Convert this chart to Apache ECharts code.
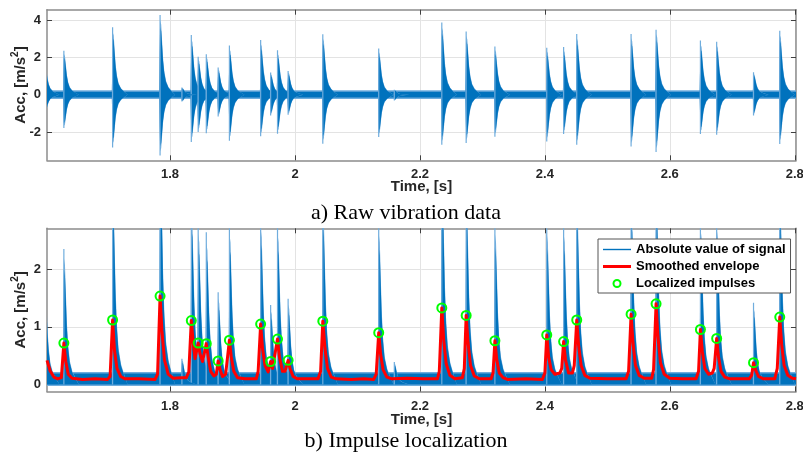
<!DOCTYPE html>
<html>
<head>
<meta charset="UTF-8">
<title>Impulse localization</title>
<script src="https://cdn.jsdelivr.net/npm/echarts@6/dist/echarts.min.js"></script>
</head>
<body style="margin:0;background:#fff">
<div id="main" style="width:803px;height:458px;"></div>
<script type="text/javascript">
// axis ticks
var xTicks = [1.8, 2, 2.2, 2.4, 2.6, 2.8];
var rawTicks = [-2, 0, 2, 4];
var absTicks = [0, 1, 2];

// localized impulses (time in s, envelope value)
var impulseTime = [1.630, 1.708, 1.784, 1.834, 1.845, 1.858, 1.877, 1.895, 1.945, 1.961, 1.972, 1.989, 2.0445,
                   2.134, 2.235, 2.274, 2.320, 2.403, 2.430, 2.451, 2.538, 2.578, 2.649, 2.675, 2.734, 2.776];
var impulseValue = [0.72, 1.12, 1.535, 1.11, 0.72, 0.71, 0.41, 0.77, 1.05, 0.40, 0.79, 0.42, 1.10,
                    0.90, 1.33, 1.20, 0.76, 0.86, 0.745, 1.12, 1.22, 1.40, 0.955, 0.80, 0.38, 1.17];
// raw signal extremes at each impulse
var rawUp = [2.35, 3.61, 4.27, 3.20, 2.04, 2.17, 1.46, 2.63, 2.93, 1.19, 2.38, 1.28, 3.24,
             2.47, 3.87, 3.38, 2.58, 2.52, 2.56, 3.25, 3.25, 3.48, 2.90, 2.84, 1.21, 3.43];
var rawDown = [-1.78, -2.81, -3.24, -2.52, -1.99, -2.06, -1.16, -2.45, -2.22, -1.10, -2.08, -1.07, -2.61,
               -2.26, -2.67, -2.58, -2.24, -2.49, -2.10, -2.67, -2.76, -3.06, -2.10, -2.13, -1.10, -2.63];
// peak of |signal| at each impulse (panel b)
var absPeak = [2.35, 3.6, 4.3, 3.2, 2.8, 2.64, 1.6, 2.8, 2.9, 1.38, 2.8, 1.49, 3.2,
               2.8, 3.9, 3.4, 2.8, 2.8, 2.8, 3.3, 3.3, 3.5, 2.9, 2.9, 1.42, 3.4];
// small events that were not picked as impulses
var minorTime = [1.599, 1.819, 2.159];
var minorUp = [2.0, 0.39, 0.27];
var minorDown = [-1.3, -0.36, -0.30];
var minorAbs = [2.1, 0.45, 0.39];
// background noise level
var rawNoise = [-0.14, 0.17];
var absNoise = [0, 0.19];

// smoothed envelope [time, value]
var envelope = [
  [1.603,0.42],[1.608,0.24],[1.614,0.13],[1.620,0.10],[1.626,0.12],[1.630,0.72],[1.633,0.40],[1.637,0.18],[1.643,0.11],
  [1.660,0.09],[1.680,0.10],[1.700,0.09],[1.704,0.14],[1.708,1.12],[1.711,0.60],[1.715,0.28],[1.721,0.14],[1.728,0.10],
  [1.750,0.10],[1.776,0.09],[1.780,0.18],[1.784,1.535],[1.787,0.93],[1.791,0.43],[1.797,0.18],[1.805,0.11],
  [1.818,0.12],[1.826,0.12],[1.830,0.22],[1.834,1.11],[1.837,0.73],[1.840,0.45],[1.845,0.72],[1.848,0.53],[1.852,0.40],
  [1.858,0.71],[1.861,0.48],[1.865,0.23],[1.870,0.15],[1.874,0.18],[1.877,0.41],[1.880,0.26],[1.884,0.14],[1.889,0.18],
  [1.895,0.77],[1.898,0.48],[1.902,0.23],[1.908,0.12],[1.920,0.10],
  [1.938,0.10],[1.941,0.23],[1.945,1.05],[1.948,0.63],[1.952,0.33],[1.957,0.22],[1.961,0.40],[1.964,0.28],[1.967,0.26],
  [1.972,0.79],[1.975,0.48],[1.980,0.23],[1.984,0.23],[1.989,0.42],[1.992,0.28],[1.997,0.14],[2.004,0.10],
  [2.020,0.10],[2.037,0.10],[2.041,0.23],[2.0445,1.10],[2.048,0.63],[2.052,0.28],[2.058,0.13],[2.066,0.10],
  [2.090,0.09],[2.110,0.10],[2.126,0.09],[2.130,0.18],[2.134,0.90],[2.137,0.53],[2.141,0.26],[2.147,0.13],[2.155,0.10],
  [2.180,0.11],[2.205,0.10],[2.228,0.10],[2.231,0.23],[2.235,1.33],[2.238,0.78],[2.242,0.36],[2.248,0.16],[2.256,0.10],
  [2.268,0.12],[2.271,0.28],[2.274,1.20],[2.277,0.73],[2.281,0.33],[2.287,0.15],[2.295,0.10],
  [2.314,0.10],[2.317,0.20],[2.320,0.76],[2.323,0.43],[2.327,0.20],[2.333,0.12],[2.340,0.09],
  [2.370,0.10],[2.396,0.09],[2.400,0.20],[2.403,0.86],[2.406,0.48],[2.410,0.26],[2.416,0.18],[2.424,0.20],[2.427,0.28],
  [2.430,0.745],[2.433,0.43],[2.438,0.20],[2.444,0.20],[2.447,0.33],[2.451,1.12],[2.454,0.68],[2.458,0.33],[2.464,0.16],[2.472,0.11],
  [2.500,0.10],[2.530,0.10],[2.534,0.23],[2.538,1.22],[2.541,0.73],[2.545,0.33],[2.551,0.16],[2.559,0.11],
  [2.571,0.11],[2.574,0.26],[2.578,1.40],[2.581,0.83],[2.585,0.38],[2.591,0.18],[2.600,0.11],
  [2.620,0.10],[2.642,0.10],[2.646,0.23],[2.649,0.955],[2.652,0.58],[2.656,0.28],[2.662,0.18],[2.668,0.20],[2.671,0.28],
  [2.675,0.80],[2.678,0.48],[2.682,0.23],[2.688,0.13],[2.696,0.10],
  [2.712,0.10],[2.727,0.10],[2.731,0.16],[2.734,0.38],[2.737,0.26],[2.742,0.14],[2.750,0.10],
  [2.768,0.10],[2.772,0.28],[2.776,1.17],[2.779,0.70],[2.783,0.33],[2.789,0.16],[2.796,0.11],[2.802,0.10]
];

var xMin = 1.603, xMax = 2.802;
var blue = '#0072BD', blueLight = '#70addd';
var tickFont = '"Liberation Sans", Arial, sans-serif';

// burst outline: [time offset in s, share of the peak]
var burstCore = [[-0.0012,0],[-0.0006,0.5],[0,0.85],[0.0018,0.8],[0.0032,0.62],[0.0048,0.42],
                 [0.0068,0.27],[0.0095,0.16],[0.0135,0.09],[0.019,0.04],[0.024,0]];

function burst(params, api) {
    var t = api.value(0), up = api.value(1), dn = api.value(2);
    function outline(g) {
        var top = burstCore.map(function (p) { return api.coord([t + p[0], Math.min(p[1] * g, 1) * up]); });
        var bot = burstCore.map(function (p) { return api.coord([t + p[0], Math.min(p[1] * g, 1) * dn]); });
        return top.concat(bot.reverse());
    }
    var a = api.coord([t, dn]), b = api.coord([t, up]);
    return {
        type: 'group',
        children: [
            {type: 'polygon', shape: {points: outline(1.1)}, style: {fill: blueLight}},
            {type: 'polygon', shape: {points: outline(1)}, style: {fill: blue}},
            {type: 'line', shape: {x1: a[0], y1: a[1], x2: b[0], y2: b[1]}, style: {stroke: blueLight, lineWidth: 1.2}}
        ]
    };
}

function band(params, api) {
    var cs = params.coordSys;
    var y0 = api.coord([xMin, api.value(0)])[1], y1 = api.coord([xMin, api.value(1)])[1];
    return {
        type: 'group',
        children: [
            {type: 'rect', shape: {x: cs.x, y: y1 - 1.5, width: cs.width, height: y0 - y1 + 3}, style: {fill: blueLight}},
            {type: 'rect', shape: {x: cs.x, y: y1, width: cs.width, height: y0 - y1}, style: {fill: blue}}
        ]
    };
}

var rawData = impulseTime.map(function (t, i) { return [t, rawUp[i], rawDown[i]]; })
    .concat(minorTime.map(function (t, i) { return [t, minorUp[i], minorDown[i]]; }));
var absData = impulseTime.map(function (t, i) { return [t, absPeak[i], 0]; })
    .concat(minorTime.map(function (t, i) { return [t, minorAbs[i], 0]; }));
var impulseData = impulseTime.map(function (t, i) { return [t, impulseValue[i]]; });

function xAxisFor(grid, pos, gap) {
    var main = pos === 'bottom';
    return {
        type: 'value', gridIndex: grid, position: pos, min: xMin, max: xMax,
        name: main ? 'Time, [s]' : '', nameLocation: 'middle', nameGap: gap, nameMoveOverlap: false,
        nameTextStyle: {fontFamily: tickFont, fontWeight: 'bold', fontSize: 15, color: '#262626'},
        axisLine: {show: true, onZero: false, lineStyle: {color: '#8c8c8c', width: 1.5}},
        axisTick: {show: true, inside: true, length: 5, customValues: xTicks, lineStyle: {color: '#404040'}},
        axisLabel: {show: main, customValues: xTicks, margin: 8, fontFamily: tickFont, fontWeight: 'bold', fontSize: 13, color: '#262626'},
        splitLine: {show: main, lineStyle: {color: '#e3e3e3', width: 1}}
    };
}

function yAxisFor(grid, pos, lo, hi, ticks) {
    var main = pos === 'left';
    return {
        type: 'value', gridIndex: grid, position: pos, min: lo, max: hi,
        name: main ? 'Acc, [m/s{s|2}]' : '', nameLocation: 'middle', nameGap: 15, nameMoveOverlap: false,
        nameTextStyle: {fontFamily: tickFont, fontWeight: 'bold', fontSize: 15, color: '#262626',
            rich: {s: {fontFamily: tickFont, fontWeight: 'bold', fontSize: 10, color: '#262626', verticalAlign: 'top', lineHeight: 22}}},
        axisLine: {show: true, onZero: false, lineStyle: {color: '#8c8c8c', width: 1.5}},
        axisTick: {show: true, inside: true, length: 5, customValues: ticks, lineStyle: {color: '#404040'}},
        axisLabel: {show: main, customValues: ticks, margin: 6, fontFamily: tickFont, fontWeight: 'bold', fontSize: 13, color: '#262626'},
        splitLine: {show: main, lineStyle: {color: '#e3e3e3', width: 1}}
    };
}

var myChart = echarts.init(document.getElementById('main'));
var option = {
    animation: false,
    backgroundColor: '#fff',
    grid: [
        {left: 47, right: 7, top: 9.7, height: 150.6, outerBoundsMode: 'none'},
        {left: 47, right: 7, top: 228.3, height: 163.2, outerBoundsMode: 'none'}
    ],
    xAxis: [xAxisFor(0, 'bottom', 19), xAxisFor(0, 'top', 0), xAxisFor(1, 'bottom', 21), xAxisFor(1, 'top', 0)],
    yAxis: [yAxisFor(0, 'left', -3.5, 4.55, rawTicks), yAxisFor(0, 'right', -3.5, 4.55, rawTicks),
            yAxisFor(1, 'left', -0.12, 2.71, absTicks), yAxisFor(1, 'right', -0.12, 2.71, absTicks)],
    legend: {
        orient: 'vertical', left: 598, top: 239,
        backgroundColor: '#fff', borderColor: '#555', borderWidth: 1, borderRadius: 0,
        padding: [4, 5, 3, 5], itemGap: 4, itemWidth: 28, itemHeight: 7,
        textStyle: {fontFamily: tickFont, fontWeight: 'bold', fontSize: 13, color: '#000', lineHeight: 13},
        data: [
            {name: 'Absolute value of signal', icon: 'path://M0,0h28v1.4h-28z'},
            {name: 'Smoothed envelope', icon: 'path://M0,0h28v3h-28z'},
            'Localized impulses'
        ]
    },
    graphic: [
        {type: 'text', x: 406, y: 213, style: {text: 'a) Raw vibration data', font: '22px "Liberation Serif", "Times New Roman", serif', fill: '#000', align: 'center', verticalAlign: 'middle'}},
        {type: 'text', x: 406, y: 441, style: {text: 'b) Impulse localization', font: '22px "Liberation Serif", "Times New Roman", serif', fill: '#000', align: 'center', verticalAlign: 'middle'}}
    ],
    series: [
        {type: 'custom', name: 'raw noise', xAxisIndex: 0, yAxisIndex: 0, clip: true, silent: true,
         renderItem: band, encode: {y: [0, 1]}, data: [rawNoise]},
        {type: 'custom', name: 'raw bursts', xAxisIndex: 0, yAxisIndex: 0, clip: true, silent: true,
         renderItem: burst, encode: {x: 0, y: [1, 2]}, data: rawData},
        {type: 'custom', name: 'abs noise', xAxisIndex: 2, yAxisIndex: 2, clip: true, silent: true,
         renderItem: band, encode: {y: [0, 1]}, data: [absNoise]},
        {type: 'custom', name: 'abs bursts', xAxisIndex: 2, yAxisIndex: 2, clip: true, silent: true,
         renderItem: burst, encode: {x: 0, y: [1, 2]}, data: absData},
        {type: 'line', name: 'Absolute value of signal', xAxisIndex: 2, yAxisIndex: 2, symbol: 'none',
         lineStyle: {color: blue, width: 1}, itemStyle: {color: blue}, data: []},
        {type: 'line', name: 'Smoothed envelope', xAxisIndex: 2, yAxisIndex: 2, symbol: 'none', z: 5,
         lineStyle: {color: '#ff0000', width: 3, join: 'round'}, itemStyle: {color: '#ff0000'}, data: envelope},
        {type: 'scatter', name: 'Localized impulses', xAxisIndex: 2, yAxisIndex: 2, symbol: 'circle', symbolSize: 9, z: 6,
         itemStyle: {color: 'rgba(0,0,0,0)', borderColor: '#00ff00', borderWidth: 2, opacity: 1}, data: impulseData}
    ]
};
myChart.setOption(option);
</script>
</body>
</html>
